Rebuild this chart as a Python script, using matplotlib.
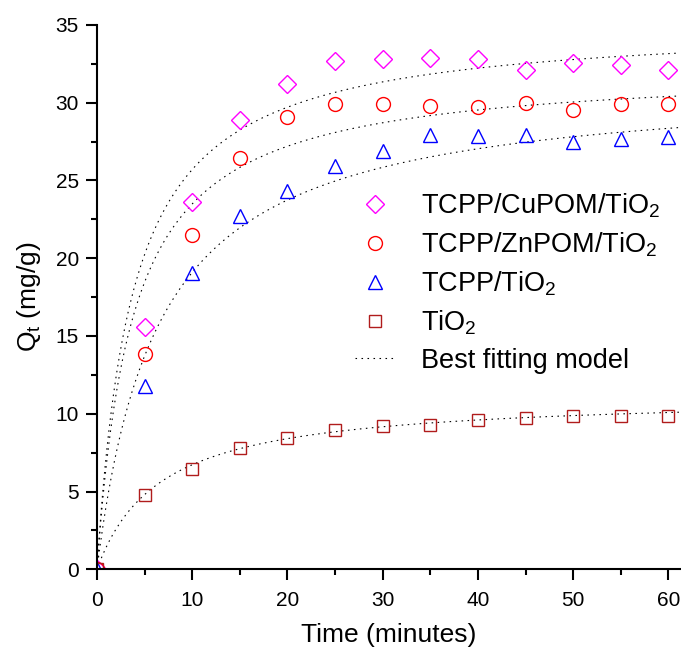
import numpy as np
import matplotlib
matplotlib.use('Agg')
import matplotlib.pyplot as plt

plt.rcParams['font.family'] = ['Liberation Sans', 'DejaVu Sans']
plt.rcParams['mathtext.fontset'] = 'custom'
plt.rcParams['mathtext.rm'] = 'Liberation Sans'
plt.rcParams['mathtext.it'] = 'Liberation Sans:italic'

# time (minutes)
t = [0, 5, 10, 15, 20, 25, 30, 35, 40, 45, 50, 55, 60]

# Qt (mg/g) for each sample
q_cupom = [0, 15.6, 23.6, 28.9, 31.2, 32.7, 32.8, 32.9, 32.8, 32.1, 32.55, 32.4, 32.1]
q_znpom = [0, 13.85, 21.5, 26.45, 29.05, 29.9, 29.9, 29.8, 29.7, 29.95, 29.55, 29.9, 29.9]
q_tcpp = [0, 11.8, 19.05, 22.7, 24.35, 25.9, 26.9, 27.9, 27.85, 27.9, 27.5, 27.65, 27.8]
q_tio2 = [0, 4.8, 6.45, 7.8, 8.45, 8.95, 9.2, 9.3, 9.6, 9.7, 9.85, 9.85, 9.85]

labels = ['TCPP/CuPOM/TiO$_2$', 'TCPP/ZnPOM/TiO$_2$', 'TCPP/TiO$_2$', 'TiO$_2$']
colors = ['#FF00FF', '#FF0000', '#0000FF', '#B01C1C']
markers = ['D', 'o', '^', 's']
msizes = [8.8, 10, 10.5, 8]

# pseudo-second-order fit parameters
qe_fit = [35.2, 32.3, 31.4, 11.2]
k_fit = [0.00769, 0.00826, 0.00494, 0.0134]

series = [q_cupom, q_znpom, q_tcpp, q_tio2]

fig = plt.figure(figsize=(6.81, 6.5), dpi=100)
ax = fig.add_axes([0.1424, 0.1242, 0.856, 0.8374])

tt = np.linspace(0, 61.2, 600)
for qe, k in zip(qe_fit, k_fit):
    ax.plot(tt, qe**2 * k * tt / (1 + qe * k * tt), color='k', lw=0.8,
            linestyle=(0, (1.4, 4)))

handles = []
for q, lab, c, m, ms in zip(series, labels, colors, markers, msizes):
    h, = ax.plot(t, q, linestyle='none', marker=m, ms=ms, mfc='none',
                 mec=c, mew=1.0, label=lab)
    handles.append(h)

fit_handle, = ax.plot([], [], color='k', lw=0.8, linestyle=(0, (1.4, 4)),
                      label='Best fitting model')
handles.append(fit_handle)

ax.set_xlim(0, 61.2)
ax.set_ylim(0, 35)
ax.set_xticks(np.arange(0, 61, 10))
ax.set_xticks(np.arange(0, 61, 5), minor=True)
ax.set_yticks(np.arange(0, 36, 5))
ax.set_yticks(np.arange(0, 36, 2.5), minor=True)

ax.spines['top'].set_visible(False)
ax.spines['right'].set_visible(False)
ax.spines['left'].set_linewidth(1.5)
ax.spines['bottom'].set_linewidth(1.5)
ax.tick_params(which='major', direction='out', length=8, width=1.5,
               labelsize=15, pad=5)
ax.tick_params(axis='x', which='major', pad=8)
ax.tick_params(which='minor', direction='out', length=4.5, width=1.5)

ax.set_xlabel('Time (minutes)', fontsize=19, labelpad=9)
ax.set_ylabel('Q$_\\mathrm{t}$ (mg/g)', fontsize=19, labelpad=9)

ax.legend(handles=handles, loc='upper left', bbox_to_anchor=(0.4425, 0.694),
          frameon=False, fontsize=19.5, handlelength=1.5, handletextpad=0.95,
          labelspacing=0.39, borderpad=0, borderaxespad=0)

fig.savefig('out.png', dpi=100)
